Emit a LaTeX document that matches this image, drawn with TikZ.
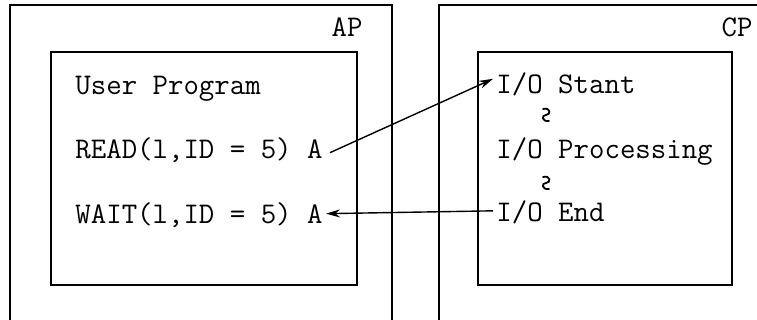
\documentclass[tikz,border=0pt]{standalone}
\usepackage{tikz}
\usetikzlibrary{arrows.meta,positioning}

\begin{document}
\begin{tikzpicture}[x=0.5pt, y=-0.5pt,
    txt/.style={font=\fontsize{15}{18}\selectfont\ttfamily, anchor=base west, inner sep=1.5pt},
    box/.style={line width=1pt},
    wave/.style={line width=0.9pt, line cap=round},
    link/.style={line width=0.7pt, -{Stealth[length=7pt,width=4pt]}}]
    \useasboundingbox (0,0) rectangle (757,320);
    % Processors (open at the bottom)
    \draw[box] (10,322) -- (10,5) -- (392,5) -- (392,322);
    \draw[box] (439,322) -- (439,5) -- (758,5);
    \node[txt, anchor=base east] (ap) at (366,37) {AP};
    \node[txt, anchor=base east] (cp) at (756,37) {CP};
    % Inner boxes
    \draw[box] (51,52) rectangle (357,285);
    \draw[box] (478,52) rectangle (732,285);
    % User program
    \node[txt] (user) at (72,95) {User Program};
    \node[txt] (read) at (72,159) {READ(l,ID = 5) A};
    \node[txt] (wait) at (72,224) {WAIT(l,ID = 5) A};
    % Channel side
    \node[txt] (iostart) at (493,94) {I/O Stant};
    \node[txt] (ioproc) at (493,159) {I/O Processing};
    \node[txt] (ioend) at (493,222) {I/O End};
    \coordinate (gap1) at (546,115);
    \coordinate (gap2) at (546,183);
    % Waiting marks
    \foreach \g in {gap1,gap2}
        \draw[wave] ([shift={(-3,-6)}]\g) .. controls ([shift={(5,-8)}]\g) and ([shift={(5,0)}]\g) .. (\g)
            .. controls ([shift={(-5,0)}]\g) and ([shift={(-4,7)}]\g) .. ([shift={(3,6)}]\g);
    % Connectors
    \draw[link] ([xshift=2pt,yshift=-1pt]read.east) -- ([yshift=3pt]iostart.west);
    \draw[link] ([yshift=1pt]ioend.west) -- ([yshift=1pt]wait.east);
\end{tikzpicture}
\end{document}
